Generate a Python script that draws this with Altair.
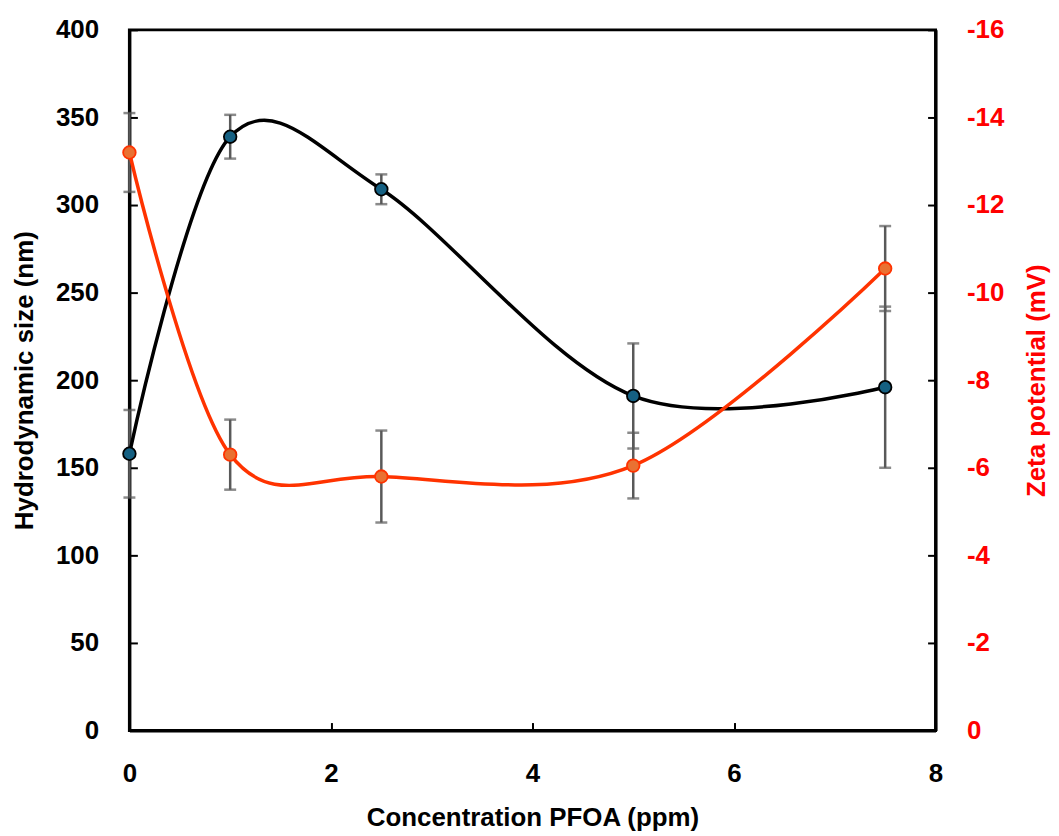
import altair as alt
import pandas as pd

# ---- data ----
conc = [0, 1, 2.5, 5, 7.5]
size_nm = [158, 339, 309, 191, 196]
size_err = [25, 12.5, 8.5, 30, 46]
zeta_mv = [-13.2, -6.3, -5.8, -6.05, -10.55]
zeta_err = [0.9, 0.8, 1.05, 0.75, 0.97]

x_ticks = [0, 2, 4, 6, 8]
size_ticks = [0, 50, 100, 150, 200, 250, 300, 350, 400]
zeta_ticks = [0, -2, -4, -6, -8, -10, -12, -14, -16]

df = pd.DataFrame({
    "conc": conc,
    "size": size_nm,
    "size_lo": [v - e for v, e in zip(size_nm, size_err)],
    "size_hi": [v + e for v, e in zip(size_nm, size_err)],
    "zeta": zeta_mv,
    "zeta_lo": [v - e for v, e in zip(zeta_mv, zeta_err)],
    "zeta_hi": [v + e for v, e in zip(zeta_mv, zeta_err)],
})

FONT = "Liberation Sans"
W, H = 810, 704
ERR = "#595959"
INWARD = alt.ExprRef(expr="-8")

x_enc = alt.X(
    "conc:Q",
    scale=alt.Scale(domain=[0, 8], nice=False),
    axis=alt.Axis(
        values=x_ticks, title="Concentration PFOA (ppm)", tickSize=INWARD,
        labelPadding=38, labelFlush=False, titleX=W / 2, titleY=87,
        titleBaseline="middle", titleAlign="center",
    ),
)

size_scale = alt.Scale(domain=[0, 400], nice=False)
size_axis = alt.Axis(
    orient="left", values=size_ticks, title="Hydrodynamic size (nm)",
    tickSize=INWARD, labelPadding=39, titleX=-105, titleY=H / 2,
    titleAngle=270, titleBaseline="middle", titleAlign="center",
)
zeta_scale = alt.Scale(domain=[0, -16], nice=False)
zeta_axis = alt.Axis(
    orient="right", values=zeta_ticks, title="Zeta potential (mV)",
    tickSize=INWARD, labelPadding=39, titleX=101, titleY=H / 2,
    titleAngle=270, titleBaseline="middle", titleAlign="center",
    labelColor="#FF0000", titleColor="#FF0000",
    labelExpr="datum.value == 0 ? '0' : '-' + format(abs(datum.value), 'd')",
)


def ys(field):
    return alt.Y(field + ":Q", scale=size_scale, axis=size_axis)


def yz(field):
    return alt.Y(field + ":Q", scale=zeta_scale, axis=zeta_axis)


base = alt.Chart(df).encode(x=x_enc)

size_layer = alt.layer(
    base.mark_rule(color=ERR, strokeWidth=2.5).encode(y=ys("size_lo"), y2="size_hi:Q"),
    base.mark_tick(orient="horizontal", size=12, thickness=2.5, color=ERR).encode(y=ys("size_lo")),
    base.mark_tick(orient="horizontal", size=12, thickness=2.5, color=ERR).encode(y=ys("size_hi")),
    base.mark_line(interpolate="cardinal", tension=0, color="black", strokeWidth=3.5).encode(y=ys("size")),
    base.mark_circle(size=160, color="#156082", stroke="black", strokeWidth=1.8, opacity=1).encode(y=ys("size")),
)

zeta_layer = alt.layer(
    base.mark_rule(color=ERR, strokeWidth=2.5).encode(y=yz("zeta_lo"), y2="zeta_hi:Q"),
    base.mark_tick(orient="horizontal", size=12, thickness=2.5, color=ERR).encode(y=yz("zeta_lo")),
    base.mark_tick(orient="horizontal", size=12, thickness=2.5, color=ERR).encode(y=yz("zeta_hi")),
    base.mark_line(interpolate="cardinal", tension=0, color="#FF3300", strokeWidth=3.5).encode(y=yz("zeta")),
    base.mark_circle(size=160, color="#E97132", stroke="#FF3300", strokeWidth=1.8, opacity=1).encode(y=yz("zeta")),
)

chart = (
    alt.layer(size_layer, zeta_layer)
    .resolve_scale(y="independent")
    .properties(
        width=W, height=H,
        padding={"left": 122, "top": 20, "right": 116, "bottom": 102},
        autosize=alt.AutoSizeParams(type="none"),
    )
    .configure_view(stroke="black", strokeWidth=3)
    .configure_axis(
        grid=False, domainColor="black", domainWidth=3,
        tickColor="black", tickWidth=2,
        labelFont=FONT, labelFontSize=26, labelFontWeight="bold", labelColor="black",
        titleFont=FONT, titleFontSize=26, titleFontWeight="bold", titleColor="black",
    )
)

chart.save("out.html", embed_options={"renderer": "svg", "actions": False})
